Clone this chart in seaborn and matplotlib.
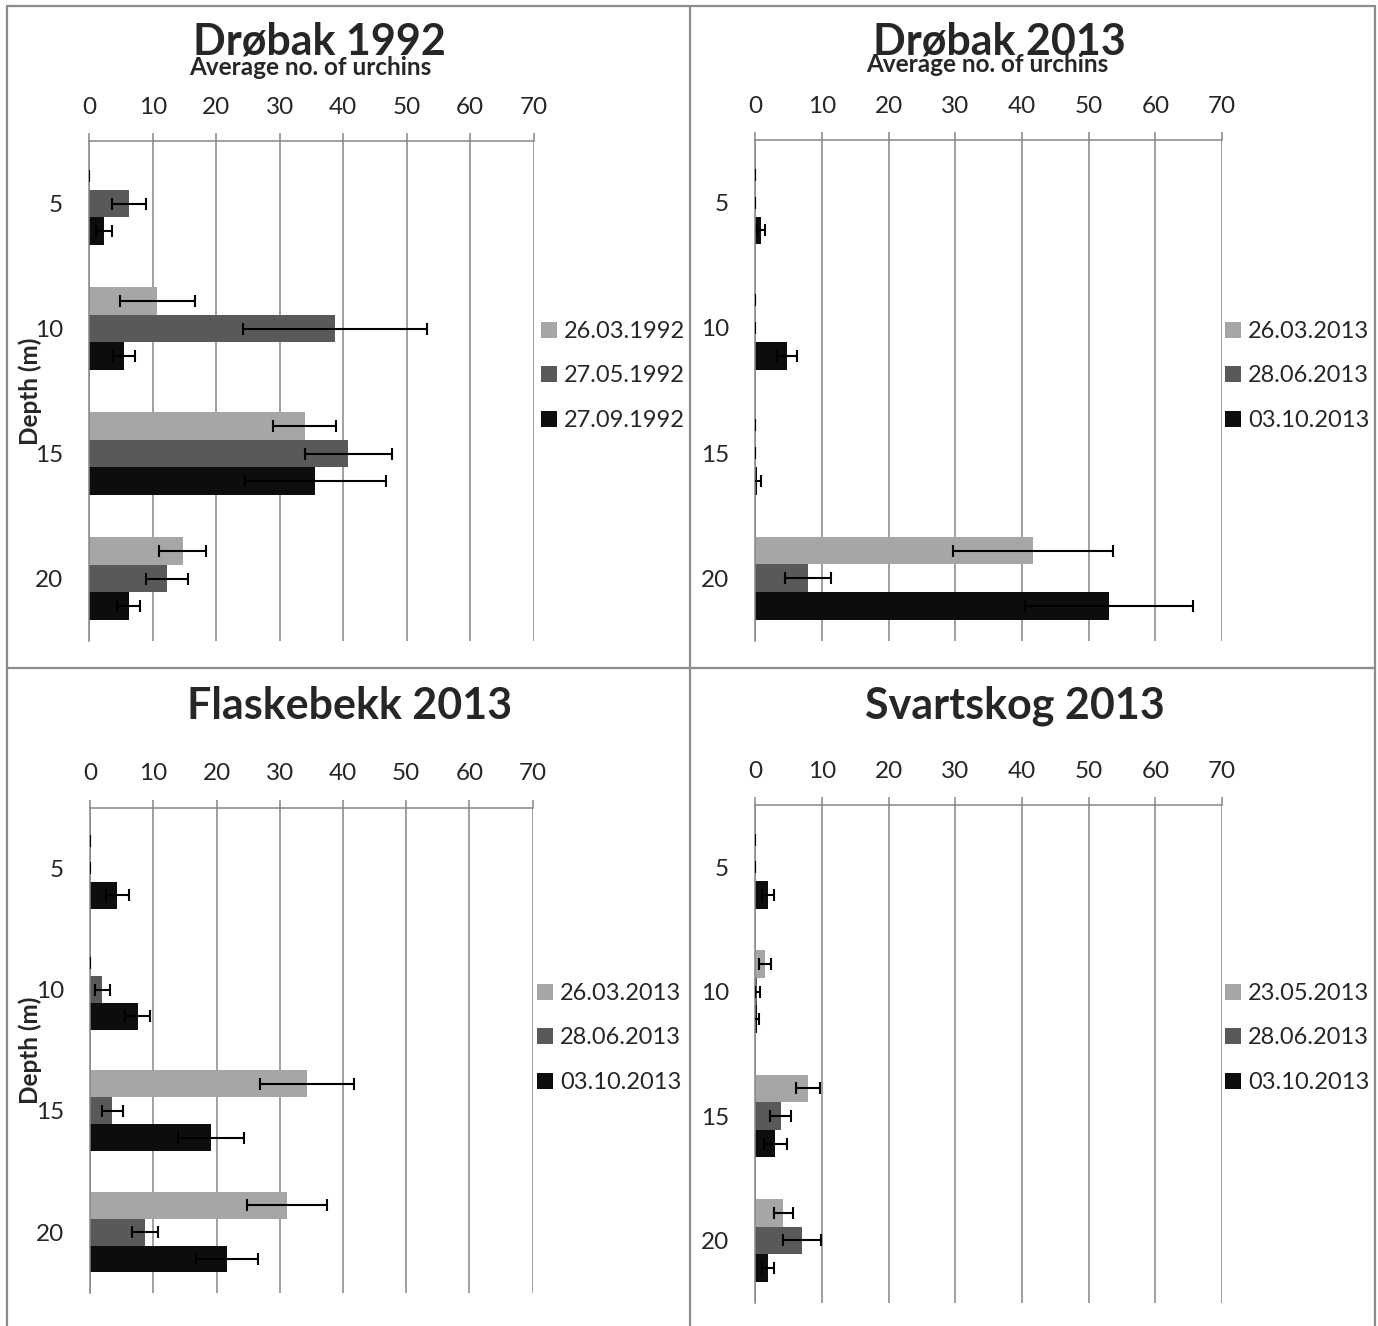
import numpy as np
import pandas as pd
import matplotlib
matplotlib.use("Agg")
import matplotlib.pyplot as plt
from matplotlib.lines import Line2D
from matplotlib.container import BarContainer
import seaborn as sns

# ---- data: mean number of urchins per depth, with standard errors ----
depths = ["5", "10", "15", "20"]

drobak92_dates = ["26.03.1992", "27.05.1992", "27.09.1992"]
drobak92_mean = [[0.0, 10.7, 33.9, 14.7],
                 [6.2, 38.7, 40.8, 12.3],
                 [2.3, 5.5, 35.6, 6.2]]
drobak92_se = [[0.0, 5.9, 5.0, 3.7],
               [2.7, 14.5, 6.8, 3.3],
               [1.3, 1.7, 11.1, 1.8]]

drobak13_dates = ["26.03.2013", "28.06.2013", "03.10.2013"]
drobak13_mean = [[0.0, 0.0, 0.0, 41.6],
                 [0.0, 0.0, 0.0, 7.9],
                 [0.8, 4.8, 0.3, 53.1]]
drobak13_se = [[0.0, 0.0, 0.0, 12.0],
               [0.0, 0.0, 0.0, 3.4],
               [0.6, 1.5, 0.5, 12.6]]

flaske_dates = ["26.03.2013", "28.06.2013", "03.10.2013"]
flaske_mean = [[0.0, 0.0, 34.3, 31.1],
               [0.0, 1.9, 3.5, 8.7],
               [4.3, 7.5, 19.1, 21.6]]
flaske_se = [[0.0, 0.0, 7.4, 6.3],
             [0.0, 1.2, 1.65, 2.1],
             [1.8, 2.0, 5.2, 4.9]]

svart_dates = ["23.05.2013", "28.06.2013", "03.10.2013"]
svart_mean = [[0.0, 1.5, 7.9, 4.2],
              [0.0, 0.3, 3.8, 7.0],
              [1.9, 0.2, 3.0, 1.9]]
svart_se = [[0.0, 0.9, 1.8, 1.4],
            [0.0, 0.4, 1.6, 2.9],
            [0.9, 0.4, 1.75, 0.9]]

titles = ["Drøbak 1992", "Drøbak 2013", "Flaskebekk 2013", "Svartskog 2013"]
xticks = [0, 10, 20, 30, 40, 50, 60, 70]

# ---- styling ----
sns.set_style("white")
plt.rcParams["font.family"] = ["Lato", "DejaVu Sans"]
bar_colors = ["#A6A6A6", "#595959", "#0D0D0D"]
grid_gray = "#868686"
W, H = 1378, 1326
DPI = 100

fig = plt.figure(figsize=(W / DPI, H / DPI), dpi=DPI)


def rect(left, top, right, bottom):
    return [left / W, 1 - bottom / H, (right - left) / W, (bottom - top) / H]


panels = [
    dict(title=titles[0], dates=drobak92_dates, mean=drobak92_mean, se=drobak92_se,
         box=(89.3, 141, 533.8, 641), title_xy=(319, 55), xlabel_xy=(310, 75),
         ylabel=True, legend_x=541, legend_y=376),
    dict(title=titles[1], dates=drobak13_dates, mean=drobak13_mean, se=drobak13_se,
         box=(755.4, 140, 1222, 641), title_xy=(999, 55), xlabel_xy=(987, 72),
         ylabel=False, legend_x=1225, legend_y=376),
    dict(title=titles[2], dates=flaske_dates, mean=flaske_mean, se=flaske_se,
         box=(90.2, 807.7, 532.5, 1292.7), title_xy=(350, 719), xlabel_xy=None,
         ylabel=True, legend_x=537, legend_y=1038),
    dict(title=titles[3], dates=svart_dates, mean=svart_mean, se=svart_se,
         box=(755.4, 805, 1222, 1302.7), title_xy=(1015, 719), xlabel_xy=None,
         ylabel=False, legend_x=1225, legend_y=1038),
]

for p in panels:
    ax = fig.add_axes(rect(*p["box"]))
    rows = []
    for d_i, date in enumerate(p["dates"]):
        for k, dep in enumerate(depths):
            rows.append({"depth": dep, "date": date,
                         "count": p["mean"][d_i][k], "se": p["se"][d_i][k]})
    df = pd.DataFrame(rows)

    sns.barplot(data=df, x="count", y="depth", hue="date", orient="h",
                order=depths, hue_order=p["dates"], palette=bar_colors,
                saturation=1, width=0.666, errorbar=None, linewidth=0,
                ax=ax, zorder=2)

    # error bars centred on each drawn bar
    bar_groups = [c for c in ax.containers if isinstance(c, BarContainer)]
    for d_i, cont in enumerate(bar_groups):
        ys = [b.get_y() + b.get_height() / 2 for b in cont]
        ax.errorbar(p["mean"][d_i], ys, xerr=p["se"][d_i], fmt="none",
                    ecolor="black", elinewidth=1.5, capsize=4.3, capthick=1.5,
                    zorder=4)

    ax.set_xlim(0, 70)
    ax.set_ylim(3.5, -0.5)
    ax.set_xticks(xticks)
    ax.xaxis.tick_top()
    ax.tick_params(axis="x", which="major", direction="out", length=5.8,
                   width=1.1, color=grid_gray, labelsize=17.5, pad=11)
    ax.set_yticks(range(len(depths)))
    ax.set_yticklabels(depths)
    ax.set_yticks(np.arange(-0.5, len(depths), 1.0), minor=True)
    ax.tick_params(axis="y", which="major", length=0, labelsize=17.5, pad=19)
    ax.tick_params(axis="y", which="minor", direction="out", length=6.5,
                   width=1.1, color=grid_gray)
    ax.grid(axis="x", color=grid_gray, linewidth=1.1)
    ax.grid(axis="y", visible=False)
    ax.set_axisbelow(True)
    for side in ["bottom", "right"]:
        ax.spines[side].set_visible(False)
    for side in ["top", "left"]:
        ax.spines[side].set_color(grid_gray)
        ax.spines[side].set_linewidth(1.1)
    ax.set_xlabel("")
    ax.set_ylabel("")

    handles, labels = ax.get_legend_handles_labels()
    ax.legend(handles, labels, loc="center left",
              bbox_to_anchor=(p["legend_x"] / W, 1 - p["legend_y"] / H),
              bbox_transform=fig.transFigure, frameon=False, fontsize=17,
              handlelength=0.68, handleheight=0.68, handletextpad=0.3,
              labelspacing=1.0, borderpad=0, borderaxespad=0)

    tx, ty = p["title_xy"]
    fig.text(tx / W, 1 - ty / H, p["title"], ha="center", va="baseline",
             fontsize=31, fontweight="bold")
    if p["xlabel_xy"] is not None:
        lx, ly = p["xlabel_xy"]
        fig.text(lx / W, 1 - ly / H, "Average no. of urchins", ha="center",
                 va="baseline", fontsize=17.5, fontweight="bold")
    if p["ylabel"]:
        cy = (p["box"][1] + p["box"][3]) / 2
        fig.text(30 / W, 1 - cy / H, "Depth (m)", ha="center", va="center",
                 rotation=90, fontsize=17.5, fontweight="bold")

# panel frame lines
frame_color = "#8C8C8C"
frame_lines = [((7, 1375), (6, 6)), ((7, 7), (6, 1326)), ((690, 690), (6, 1326)),
               ((7, 1375), (668, 668)), ((1375, 1375), (6, 1326))]
for xs, ys in frame_lines:
    fig.add_artist(Line2D([x / W for x in xs], [1 - y / H for y in ys],
                          color=frame_color, linewidth=1.6))

fig.savefig("out.png", dpi=DPI, facecolor="white")
